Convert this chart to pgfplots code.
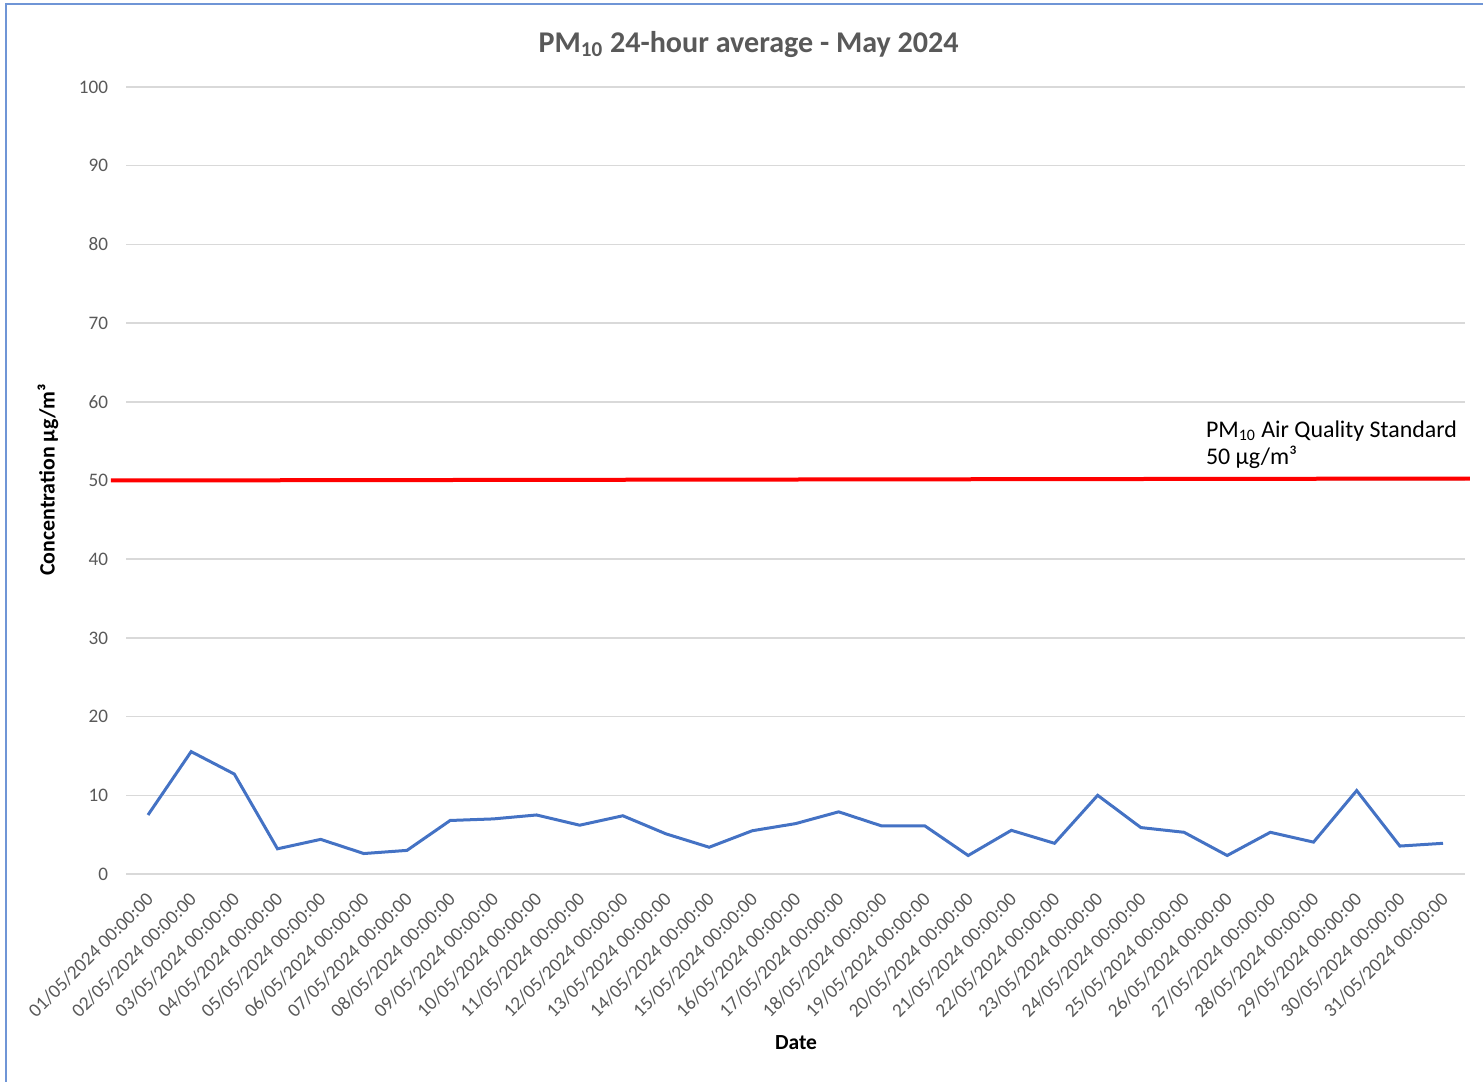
\documentclass[border=0pt]{standalone}
\usepackage{fontspec}
\setmainfont{Carlito}
\usepackage{pgfplots}
\pgfplotsset{compat=1.18}
\definecolor{xlblue}{HTML}{4472C4}
\definecolor{frameblue}{HTML}{6F95D6}
\definecolor{txtgray}{HTML}{595959}
\definecolor{gridgray}{HTML}{D9D9D9}
\begin{document}
\begin{tikzpicture}
\useasboundingbox (0,0) rectangle (741.5bp,541bp);
\draw[color=frameblue, line width=1bp] (3bp,-5bp) -- (3bp,539bp) -- (750bp,539bp);
\begin{axis}[
  at={(63.2bp,104bp)}, anchor=south west,
  scale only axis, width=669.1bp, height=393.5bp,
  xmin=-0.5, xmax=30.5, ymin=0, ymax=100,
  axis line style={draw=none},
  major tick length=0pt,
  ytick={0,10,...,100},
  ymajorgrids, grid style={gridgray, line width=0.75bp},
  xtick={0,...,30},
  xticklabels={01/05/2024 00:00:00,02/05/2024 00:00:00,03/05/2024 00:00:00,04/05/2024 00:00:00,05/05/2024 00:00:00,06/05/2024 00:00:00,07/05/2024 00:00:00,08/05/2024 00:00:00,09/05/2024 00:00:00,10/05/2024 00:00:00,11/05/2024 00:00:00,12/05/2024 00:00:00,13/05/2024 00:00:00,14/05/2024 00:00:00,15/05/2024 00:00:00,16/05/2024 00:00:00,17/05/2024 00:00:00,18/05/2024 00:00:00,19/05/2024 00:00:00,20/05/2024 00:00:00,21/05/2024 00:00:00,22/05/2024 00:00:00,23/05/2024 00:00:00,24/05/2024 00:00:00,25/05/2024 00:00:00,26/05/2024 00:00:00,27/05/2024 00:00:00,28/05/2024 00:00:00,29/05/2024 00:00:00,30/05/2024 00:00:00,31/05/2024 00:00:00},
  xticklabel style={yshift=-11bp, xshift=1bp, rotate=45, anchor=east, inner sep=0pt, font=\fontsize{9.7}{11}\selectfont, text=txtgray},
  yticklabel style={anchor=east, inner sep=0pt, xshift=-9bp, font=\fontsize{9.6}{11}\selectfont, text=txtgray},
  /pgf/number format/assume math mode=true,
  every axis title shift=0pt,
  title={PM\textsubscript{10} 24-hour average - May 2024},
  title style={at={(rel axis cs:0.465,1.0546)}, anchor=center, font=\fontsize{15.1}{18}\selectfont\bfseries, text=txtgray},
  xlabel={Date},
  xlabel style={at={(rel axis cs:0.5004,-0.2147)}, anchor=center, font=\fontsize{10.8}{12}\selectfont\bfseries},
  ylabel={Concentration µg/m³},
  ylabel style={at={(rel axis cs:-0.0586,0.5006)}, anchor=center, rotate=0, font=\fontsize{11}{13}\selectfont\bfseries},
  clip=false,
]
\addplot[color=xlblue, line width=1.5bp, mark=none] coordinates {
(0,7.5) (1,15.55) (2,12.7) (3,3.2) (4,4.4) (5,2.6) (6,3.0) (7,6.8) (8,7.0) (9,7.5)
(10,6.2) (11,7.4) (12,5.1) (13,3.4) (14,5.5) (15,6.4) (16,7.9) (17,6.1) (18,6.1) (19,2.35)
(20,5.55) (21,3.9) (22,10.0) (23,5.9) (24,5.3) (25,2.35) (26,5.3) (27,4.05) (28,10.6) (29,3.55) (30,3.9)
};
\addplot[color=red, line width=2bp, mark=none] coordinates {(-0.86,50.0) (30.62,50.25)};
\node[anchor=base west, inner sep=0pt, font=\fontsize{12}{14}\selectfont] at (axis cs:24.5,55.5) {PM\textsubscript{10} Air Quality Standard};
\node[anchor=base west, inner sep=0pt, font=\fontsize{12}{14}\selectfont] at (axis cs:24.5,52.0) {50 µg/m³};
\end{axis}
\end{tikzpicture}
\end{document}
